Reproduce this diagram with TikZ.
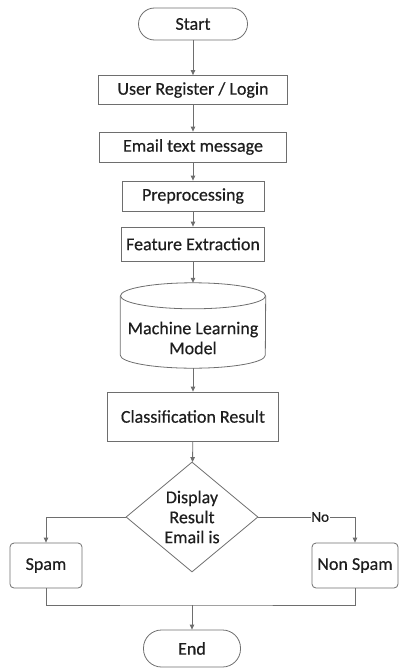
\documentclass[tikz,border=0pt]{standalone}
\usepackage{fontspec}
\setmainfont{Carlito}[FakeBold=0.5]
\usetikzlibrary{shapes.geometric,arrows.meta}
\definecolor{edge}{HTML}{6E6E6E}
\definecolor{ink}{HTML}{1E1E1E}
\tikzset{
  x=1pt, y=-1pt,
  every node/.style={text=ink, font=\fontsize{18}{20}\selectfont},
  proc/.style={draw=edge, line width=0.8pt, rectangle, inner sep=0pt},
  term/.style={draw=edge, line width=0.8pt, rectangle, rounded corners=16pt, inner sep=0pt},
  outcome/.style={draw=edge, line width=0.8pt, rectangle, rounded corners=4pt, inner sep=0pt},
  decide/.style={draw=edge, line width=0.8pt, diamond, inner sep=0pt, align=center},
  flow/.style={draw=edge, line width=0.8pt, -{Triangle[length=5pt,width=4.5pt]}},
  link/.style={draw=edge, line width=0.8pt},
}
\begin{document}
\begin{tikzpicture}
\useasboundingbox (0,0) rectangle (400,669);

\node[term, minimum width=109pt, minimum height=32pt] (start) at (193,24) {Start};
\node[proc, minimum width=189pt, minimum height=29pt] (login) at (193,90) {User Register / Login};
\node[proc, minimum width=187pt, minimum height=30pt] (email) at (193,147) {Email text message};
\node[proc, minimum width=142pt, minimum height=30pt] (prep) at (193,196) {Preprocessing};
\node[proc, minimum width=143pt, minimum height=34pt] (feat) at (193,244) {Feature Extraction};

% cylinder body drawn around an invisible frame node
\node[rectangle, inner sep=0pt, minimum width=145pt, minimum height=85pt] (ml) at (193,325.5) {};
\draw[link] ([yshift=-13pt]ml.north west) -- ([yshift=13pt]ml.south west)
  arc[start angle=180, end angle=360, x radius=72.5pt, y radius=13pt]
  -- ([yshift=-13pt]ml.north east);
\draw[link] ([yshift=-13pt]ml.north) ellipse[x radius=72.5pt, y radius=13pt];
\node[align=center] (mltext) at (193,338) {Machine Learning\\Model};

\node[proc, minimum width=171pt, minimum height=49pt] (cls) at (193,416.5) {Classification Result};
\node[decide, minimum width=132pt, minimum height=110pt] (disp) at (192,517) {Display\\Result\\Email is};
\node[outcome, minimum width=72pt, minimum height=45pt] (spam) at (46,565.5) {Spam};
\node[outcome, minimum width=86pt, minimum height=45pt] (nonspam) at (355,565.5) {Non Spam};
\node[term, rounded corners=18pt, minimum width=97pt, minimum height=37pt] (end) at (192,648.5) {End};
\coordinate (merge) at (192,605);

\draw[flow] (start) -- (login);
\draw[flow] (login) -- (email);
\draw[flow] (email) -- (prep);
\draw[flow] (prep) -- (feat);
\draw[flow] (feat) -- (ml);
\draw[flow] (ml) -- (cls);
\draw[flow] (cls) -- (disp);
\draw[flow] (disp.west) -| (spam.north);
\draw[flow] (disp.east) -| node[pos=0.32, fill=white, inner sep=0.5pt, font=\fontsize{15}{16}\selectfont] {No} (nonspam.north);
\draw[link] (spam.south) |- (merge) -| (nonspam.south);
\draw[flow] (merge) -- (end);
\end{tikzpicture}
\end{document}
